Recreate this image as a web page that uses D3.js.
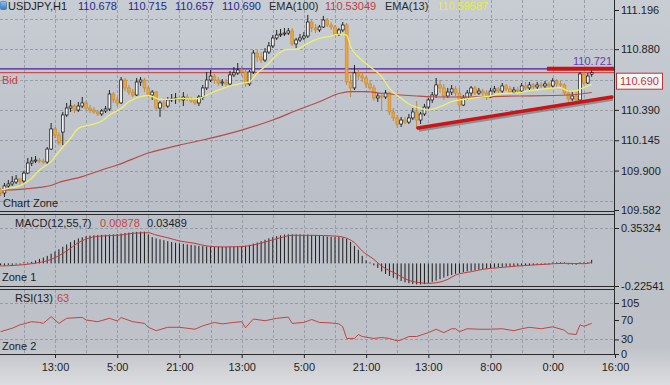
<!DOCTYPE html>
<html>
<head>
<meta charset="utf-8">
<script src="https://cdn.jsdelivr.net/npm/d3@7"></script>
<style>
body { margin: 0; background: #c4c8cf; overflow: hidden; }
svg { display: block; font-family: "Liberation Sans", Arial, sans-serif; font-size: 11px; }
</style>
</head>
<body>
<svg id="chart" width="670" height="385"></svg>
<script>
// USDJPY H1 bars
var opens = [109.743,109.719,109.776,109.792,109.808,109.832,109.816,109.880,109.961,109.977,
109.985,109.977,109.969,110.074,110.236,110.187,110.211,110.349,110.405,110.421,
110.389,110.421,110.446,110.405,110.389,110.373,110.357,110.381,110.397,110.518,
110.470,110.446,110.631,110.567,110.534,110.510,110.615,110.631,110.567,110.510,
110.534,110.405,110.446,110.421,110.470,110.478,110.486,110.470,110.494,110.478,
110.462,110.446,110.494,110.567,110.631,110.663,110.631,110.607,110.615,110.599,
110.672,110.688,110.712,110.696,110.599,110.696,110.849,110.817,110.792,110.857,
110.906,110.970,110.994,111.002,111.010,111.027,110.922,110.954,110.970,110.986,
111.099,111.051,111.035,111.059,111.115,111.075,111.059,111.002,111.035,111.075,
110.615,110.567,110.688,110.663,110.647,110.599,110.567,110.486,110.502,110.494,
110.526,110.373,110.325,110.276,110.308,110.292,110.325,110.373,110.308,110.357,
110.413,110.470,110.510,110.591,110.567,110.502,110.534,110.559,110.526,110.429,
110.486,110.526,110.567,110.526,110.542,110.526,110.494,110.542,110.559,110.542,
110.583,110.559,110.534,110.550,110.542,110.583,110.567,110.591,110.575,110.591,
110.583,110.599,110.583,110.623,110.599,110.591,110.526,110.478,110.502,110.470,
110.680,110.607,110.678];
var highs = [109.760,109.800,109.824,109.856,109.864,109.840,109.897,110.002,110.010,110.018,
110.002,109.994,110.090,110.284,110.252,110.211,110.373,110.446,110.470,110.438,
110.454,110.494,110.462,110.429,110.413,110.389,110.397,110.421,110.550,110.534,
110.494,110.655,110.647,110.591,110.559,110.647,110.655,110.647,110.583,110.550,
110.542,110.462,110.486,110.494,110.518,110.526,110.502,110.534,110.518,110.494,
110.486,110.510,110.591,110.696,110.712,110.680,110.655,110.639,110.639,110.704,
110.736,110.768,110.744,110.712,110.712,110.873,110.873,110.857,110.889,110.938,
110.994,111.035,111.043,111.051,111.051,111.051,110.970,111.002,111.018,111.156,
111.115,111.083,111.075,111.148,111.131,111.099,111.075,111.051,111.099,111.091,
110.672,110.752,110.712,110.696,110.663,110.631,110.591,110.526,110.526,110.550,
110.534,110.405,110.349,110.333,110.333,110.357,110.405,110.462,110.373,110.438,
110.486,110.534,110.647,110.631,110.599,110.567,110.591,110.583,110.567,110.510,
110.550,110.583,110.583,110.567,110.559,110.550,110.567,110.583,110.575,110.607,
110.599,110.583,110.575,110.575,110.607,110.615,110.615,110.607,110.615,110.615,
110.623,110.615,110.647,110.639,110.623,110.607,110.550,110.534,110.534,110.696,
110.696,110.688,110.715];
var lows = [109.695,109.687,109.760,109.776,109.792,109.784,109.792,109.872,109.937,109.961,
109.961,109.953,109.953,110.066,110.163,110.106,110.106,110.333,110.373,110.365,
110.373,110.405,110.389,110.365,110.357,110.341,110.341,110.365,110.381,110.446,
110.421,110.438,110.542,110.510,110.494,110.502,110.583,110.534,110.494,110.470,
110.389,110.333,110.389,110.405,110.454,110.438,110.454,110.421,110.462,110.446,
110.429,110.421,110.470,110.550,110.615,110.599,110.583,110.583,110.575,110.583,
110.655,110.672,110.663,110.575,110.583,110.680,110.776,110.768,110.776,110.841,
110.889,110.954,110.978,110.986,110.994,110.906,110.889,110.938,110.954,110.970,
111.018,111.010,111.018,111.051,111.059,111.035,110.986,110.986,111.018,110.591,
110.494,110.550,110.631,110.615,110.567,110.550,110.462,110.454,110.389,110.478,
110.349,110.300,110.244,110.252,110.276,110.276,110.308,110.244,110.276,110.341,
110.389,110.446,110.486,110.526,110.470,110.486,110.510,110.502,110.389,110.421,
110.470,110.502,110.510,110.510,110.502,110.470,110.486,110.526,110.526,110.526,
110.542,110.518,110.518,110.526,110.526,110.550,110.550,110.550,110.559,110.567,
110.567,110.559,110.567,110.575,110.567,110.510,110.454,110.462,110.446,110.462,
110.591,110.599,110.657];
var closes = [109.719,109.776,109.792,109.808,109.832,109.816,109.880,109.961,109.977,109.985,
109.977,109.969,110.074,110.236,110.187,110.123,110.349,110.405,110.421,110.389,
110.421,110.446,110.405,110.389,110.373,110.357,110.381,110.397,110.518,110.470,
110.446,110.631,110.567,110.534,110.510,110.615,110.631,110.567,110.510,110.534,
110.405,110.446,110.421,110.470,110.478,110.486,110.470,110.494,110.478,110.462,
110.446,110.494,110.567,110.631,110.663,110.631,110.607,110.615,110.599,110.672,
110.688,110.712,110.696,110.599,110.696,110.849,110.817,110.792,110.857,110.906,
110.970,110.994,111.002,111.010,111.027,110.922,110.954,110.970,110.986,111.099,
111.051,111.035,111.059,111.115,111.075,111.059,111.002,111.035,111.075,110.615,
110.567,110.688,110.663,110.647,110.599,110.567,110.486,110.502,110.494,110.526,
110.373,110.325,110.276,110.308,110.292,110.325,110.373,110.308,110.357,110.413,
110.470,110.510,110.591,110.567,110.502,110.534,110.559,110.526,110.429,110.486,
110.526,110.567,110.526,110.542,110.526,110.494,110.542,110.559,110.542,110.583,
110.559,110.534,110.550,110.542,110.583,110.567,110.591,110.575,110.591,110.583,
110.599,110.583,110.623,110.599,110.591,110.526,110.478,110.502,110.470,110.680,
110.607,110.663,110.690];

// moving averages, read at sample bars
var ema13Bars = [0,2,5,8,10,13,15,18,20,23,26,28,31,33,36,38,41,44,46,49,51,54,56,59,62,64,66,69,71,74,76,79,82,85,87,89,90,92,95,98,100,103,105,108,110,113,116,118,121,123,126,128,131,134,136,139,141,144,145,146,148,150,152];
var ema13Vals = [109.743,109.757,109.778,109.838,109.905,109.972,110.052,110.161,110.241,110.268,110.300,110.349,110.403,110.456,110.496,110.506,110.475,110.475,110.483,110.478,110.483,110.524,110.550,110.583,110.604,110.617,110.685,110.766,110.833,110.879,110.879,110.927,110.967,110.986,111.002,110.994,110.900,110.819,110.738,110.658,110.564,110.483,110.437,110.403,110.389,110.416,110.456,110.470,110.483,110.491,110.502,110.518,110.524,110.532,110.545,110.556,110.564,110.569,110.556,110.542,110.545,110.572,110.596];
var ema100Bars = [0,5,10,13,15,21,26,30,38,46,52,62,70,77,82,87,90,94,98,103,107,111,116,133,146,152];
var ema100Vals = [109.743,109.749,109.764,109.780,109.804,109.851,109.905,109.945,110.042,110.106,110.147,110.227,110.308,110.397,110.456,110.522,110.537,110.537,110.524,110.510,110.502,110.496,110.494,110.502,110.510,110.530];

// MACD(12,55,7)
var macdMain = [-0.02,-0.02,-0.015,-0.015,-0.012,-0.01,-0.005,0.009,0.016,0.029,
0.045,0.059,0.075,0.097,0.119,0.141,0.166,0.189,0.212,0.232,
0.249,0.261,0.272,0.277,0.281,0.283,0.285,0.286,0.288,0.290,
0.293,0.298,0.303,0.307,0.311,0.314,0.316,0.316,0.29,0.262,
0.25,0.24,0.231,0.222,0.213,0.206,0.2,0.195,0.19,0.185,
0.18,0.175,0.172,0.17,0.168,0.167,0.166,0.166,0.166,0.167,
0.168,0.17,0.173,0.176,0.185,0.197,0.208,0.222,0.236,0.25,
0.262,0.272,0.28,0.287,0.29,0.29,0.29,0.289,0.288,0.287,
0.284,0.28,0.275,0.272,0.268,0.265,0.262,0.262,0.258,0.245,
0.215,0.175,0.135,0.075,0.03,0.005,-0.02,-0.045,-0.08,-0.105,
-0.125,-0.143,-0.16,-0.176,-0.189,-0.198,-0.205,-0.209,-0.21,-0.207,
-0.196,-0.184,-0.172,-0.157,-0.142,-0.127,-0.115,-0.104,-0.095,-0.087,
-0.08,-0.074,-0.068,-0.062,-0.057,-0.052,-0.046,-0.042,-0.038,-0.034,
-0.031,-0.029,-0.027,-0.025,-0.023,-0.021,-0.019,-0.018,-0.016,-0.014,
-0.012,-0.01,-0.006,-0.003,-0.004,-0.007,-0.01,-0.012,-0.014,-0.008,
0.002,0.01,0.03489];
var signalBars = [0,8,13,17,20,23,26,31,34,38,40,43,46,50,53,57,62,65,69,72,75,80,86,88,91,93,96,98,102,105,108,110,112,115,117,121,124,128,133,140,145,150,152];
var signalVals = [-0.026,-0.003,0.04,0.124,0.207,0.256,0.273,0.283,0.30,0.306,0.283,0.256,0.224,0.20,0.174,0.164,0.167,0.184,0.224,0.256,0.28,0.28,0.273,0.263,0.207,0.124,0.04,-0.026,-0.109,-0.169,-0.193,-0.199,-0.193,-0.159,-0.116,-0.083,-0.059,-0.043,-0.026,-0.009,0.001,-0.003,0.00878];

// RSI(13)
var rsiBars = [0,3,5,8,10,11,13,15,17,21,22,25,28,30,31,34,37,38,40,43,46,50,52,55,57,60,62,63,65,68,71,74,75,78,80,82,85,87,88,89,91,92,93,96,98,100,102,103,105,107,110,112,114,116,117,118,120,123,126,129,132,134,136,139,142,145,146,148,149,150,152];
var rsiVals = [46,53,60,66.5,65,63,77,63,73.5,75.5,70,66.5,73.5,68,75,66.5,63,55,48,55,55,51,58,65,62,65,66.5,54,72,68.5,73.5,76,63,65,71,65,64,62,56,32,32,40,36,32,34,32,27,29,36,36,44,51,44,52,52,46,52,51,51,52,48,52,55,52,56,49,42,40,60,57,63];

var timeBars = [14,30,46,62,78,94,110,126,142,158];
var timeLabels = ["13:00","5:00","21:00","13:00","5:00","21:00","13:00","8:00","0:00","16:00"];
var priceTicks = [111.196,110.880,110.390,110.145,109.900,109.582];
var priceGrid = [111.125,110.880,110.635,110.390,110.145,109.900,109.655];
var macdTicks = [0.35324,-0.22541];
var rsiTicks = [105,70,30,0];
var rsiGrid = [105,30];

var bid = 110.690, level = 110.721;
var trend = [[107.3,110.244],[157.2,110.494]];
var levelSeg = [140.5,158];

var svg = d3.select("#chart");
var defs = svg.append("defs");

var bg = defs.append("linearGradient").attr("id","bg").attr("x1",0).attr("y1",0).attr("x2",0).attr("y2",1);
bg.append("stop").attr("offset","0%").attr("stop-color","#c8ccd3");
bg.append("stop").attr("offset","50%").attr("stop-color","#bbc0c8");
bg.append("stop").attr("offset","90%").attr("stop-color","#bfc2c8");
bg.append("stop").attr("offset","100%").attr("stop-color","#dcdde0");
svg.append("rect").attr("width",670).attr("height",385).attr("fill","url(#bg)");

defs.append("clipPath").attr("id","clipMain").append("rect").attr("x",0).attr("y",0).attr("width",614).attr("height",211);
defs.append("clipPath").attr("id","clipMacd").append("rect").attr("x",0).attr("y",215).attr("width",614).attr("height",71);
defs.append("clipPath").attr("id","clipRsi").append("rect").attr("x",0).attr("y",290).attr("width",614).attr("height",64);

var x = d3.scaleLinear().domain([14,158]).range([55,615]);
var yP = d3.scaleLinear().domain([109.582,111.196]).range([210,10]);
var yM = d3.scaleLinear().domain([-0.22541,0.35324]).range([286,228]);
var yR = d3.scaleLinear().domain([0,105]).range([354,303]);

var gridColor = "#8d949e";
var gridBars = d3.range(6,158,8);
var panels = [[0,211],[215,286],[290,354]];

// grid
var grid = svg.append("g").attr("stroke",gridColor).attr("stroke-dasharray","3,2").attr("stroke-width",0.8);
panels.forEach(function(p) {
    grid.selectAll(null).data(gridBars).enter().append("line")
        .attr("x1",function(d){ return Math.round(x(d))+0.5; })
        .attr("x2",function(d){ return Math.round(x(d))+0.5; })
        .attr("y1",p[0]).attr("y2",p[1]);
});
grid.selectAll(null).data(priceGrid).enter().append("line")
    .attr("x1",0).attr("x2",614)
    .attr("y1",function(d){ return Math.round(yP(d))+0.5; })
    .attr("y2",function(d){ return Math.round(yP(d))+0.5; });
grid.append("line").attr("x1",0).attr("x2",614)
    .attr("y1",Math.round(yM(macdTicks[0]))+0.5).attr("y2",Math.round(yM(macdTicks[0]))+0.5);
grid.selectAll(null).data(rsiGrid).enter().append("line")
    .attr("x1",0).attr("x2",614)
    .attr("y1",function(d){ return Math.round(yR(d))+0.5; })
    .attr("y2",function(d){ return Math.round(yR(d))+0.5; });

// main panel
var main = svg.append("g").attr("clip-path","url(#clipMain)");

main.append("line").attr("x1",0).attr("x2",614).attr("y1",yP(level)).attr("y2",yP(level))
    .attr("stroke","#4a1fa0").attr("stroke-width",1.2);
main.append("line").attr("x1",0).attr("x2",614).attr("y1",yP(bid)).attr("y2",yP(bid))
    .attr("stroke","#c43434").attr("stroke-width",1);

var bars = closes.map(function(c,i) {
    return { i: i, o: opens[i], h: highs[i], l: lows[i], c: c };
});

var candle = main.selectAll("g.candle").data(bars).enter().append("g").attr("class","candle");
candle.append("line")
    .attr("x1",function(d){ return x(d.i); })
    .attr("x2",function(d){ return x(d.i); })
    .attr("y1",function(d){ return yP(d.h); })
    .attr("y2",function(d){ return yP(d.l); })
    .attr("stroke",function(d){ return d.c >= d.o ? "#111" : "#b98332"; })
    .attr("stroke-width",0.9);
candle.append("rect")
    .attr("x",function(d){ return x(d.i)-1.4; })
    .attr("width",2.8)
    .attr("y",function(d){ return yP(Math.max(d.o,d.c)); })
    .attr("height",function(d){ return Math.max(0.8, Math.abs(yP(d.o)-yP(d.c))); })
    .attr("fill",function(d){ return d.c >= d.o ? "#f2f2f2" : "#eba53c"; })
    .attr("stroke",function(d){ return d.c >= d.o ? "#111" : "#c98c34"; })
    .attr("stroke-width",0.7);

var maLine = d3.line()
    .x(function(d){ return x(d[0]); })
    .y(function(d){ return yP(d[1]); })
    .curve(d3.curveMonotoneX);

main.append("path").datum(d3.zip(ema100Bars,ema100Vals)).attr("d",maLine)
    .attr("fill","none").attr("stroke","#b84a4c").attr("stroke-width",1.2);
main.append("path").datum(d3.zip(ema13Bars,ema13Vals)).attr("d",maLine)
    .attr("fill","none").attr("stroke","#eef06a").attr("stroke-width",1.3);

// trend line with shadow, and the resistance segment
main.append("line")
    .attr("x1",x(trend[0][0])+1).attr("y1",yP(trend[0][1])+2)
    .attr("x2",x(trend[1][0])+1).attr("y2",yP(trend[1][1])+2)
    .attr("stroke","#4a4d55").attr("stroke-opacity",0.45).attr("stroke-width",3.5);
main.append("line")
    .attr("x1",x(trend[0][0])).attr("y1",yP(trend[0][1]))
    .attr("x2",x(trend[1][0])).attr("y2",yP(trend[1][1]))
    .attr("stroke","#cc1414").attr("stroke-width",3.4).attr("stroke-linecap","round");
main.append("line")
    .attr("x1",x(levelSeg[0])).attr("x2",x(levelSeg[1]))
    .attr("y1",yP(level)).attr("y2",yP(level))
    .attr("stroke","#cc1111").attr("stroke-width",4);

// MACD panel
var macd = svg.append("g").attr("clip-path","url(#clipMacd)");
macd.selectAll("line.hist").data(macdMain).enter().append("line").attr("class","hist")
    .attr("x1",function(d,i){ return x(i); })
    .attr("x2",function(d,i){ return x(i); })
    .attr("y1",yM(0))
    .attr("y2",function(d){ return Math.abs(yM(d)-yM(0)) < 1 ? yM(0)-1 : yM(d); })
    .attr("stroke","#1c1c1c").attr("stroke-width",1);
macd.append("path").datum(d3.zip(signalBars,signalVals))
    .attr("d",d3.line().x(function(d){ return x(d[0]); }).y(function(d){ return yM(d[1]); }).curve(d3.curveMonotoneX))
    .attr("fill","none").attr("stroke","#c23a3a").attr("stroke-width",1);

// RSI panel
var rsi = svg.append("g").attr("clip-path","url(#clipRsi)");
rsi.append("path").datum(d3.zip(rsiBars,rsiVals))
    .attr("d",d3.line().x(function(d){ return x(d[0]); }).y(function(d){ return yR(d[1]); }))
    .attr("fill","none").attr("stroke","#c24444").attr("stroke-width",1);

// panel borders
var borders = svg.append("g").attr("stroke","#2a2a2a").attr("stroke-width",1);
[211.5,214.5,286.5,289.5,354.5].forEach(function(y) {
    borders.append("line").attr("x1",0).attr("x2",615).attr("y1",y).attr("y2",y);
});
borders.append("line").attr("x1",614.5).attr("x2",614.5).attr("y1",0).attr("y2",355);

// axes
function styleAxis(g) {
    g.select(".domain").remove();
    g.selectAll(".tick line").attr("stroke","#222");
    g.selectAll(".tick text").attr("fill","#1e1e1e").attr("font-size",11)
        .attr("font-family","'Liberation Sans', Arial, sans-serif");
}
svg.append("g").attr("transform","translate(615,0)")
    .call(d3.axisRight(yP).tickValues(priceTicks).tickSize(4).tickPadding(2).tickFormat(d3.format(".3f")))
    .call(styleAxis);
svg.append("g").attr("transform","translate(615,0)")
    .call(d3.axisRight(yM).tickValues(macdTicks).tickSize(4).tickPadding(2).tickFormat(function(d){ return d.toFixed(5); }))
    .call(styleAxis);
svg.append("g").attr("transform","translate(615,0)")
    .call(d3.axisRight(yR).tickValues(rsiTicks).tickSize(4).tickPadding(2))
    .call(styleAxis);
svg.append("g").attr("transform","translate(0,355)")
    .call(d3.axisBottom(x).tickValues(timeBars).tickSize(3).tickPadding(5)
        .tickFormat(function(d,i){ return timeLabels[i]; }))
    .call(styleAxis);

// current price box
svg.append("rect").attr("x",616.5).attr("y",yP(bid)+0.5).attr("width",46).attr("height",16)
    .attr("fill","#f6f6f6").attr("stroke","#c43434");
svg.append("text").attr("x",620).attr("y",yP(bid)+12.5).attr("fill","#c43434").text(bid.toFixed(3));
svg.append("text").attr("x",612).attr("y",yP(level)-4).attr("text-anchor","end")
    .attr("fill","#6a3cb4").text(level.toFixed(3));

// header
var icon = defs.append("linearGradient").attr("id","icon").attr("x1",0).attr("y1",0).attr("x2",0).attr("y2",1);
icon.append("stop").attr("offset","0%").attr("stop-color","#8fc4f0");
icon.append("stop").attr("offset","100%").attr("stop-color","#2f78c8");
svg.append("rect").attr("x",0.5).attr("y",1.5).attr("width",6).attr("height",8).attr("rx",1)
    .attr("fill","url(#icon)").attr("stroke","#3a6da8").attr("stroke-width",0.6);

var header = [
    { t: "USDJPY,H1", x: 8, c: "#1e1e1e" },
    { t: opens[152].toFixed(3), x: 78, c: "#1d2b8e" },
    { t: highs[152].toFixed(3), x: 128, c: "#1d2b8e" },
    { t: lows[152].toFixed(3), x: 175, c: "#1d2b8e" },
    { t: closes[152].toFixed(3), x: 222, c: "#1d2b8e" },
    { t: "EMA(100)", x: 269, c: "#2a2a2a" },
    { t: "110.53049", x: 325, c: "#c23c3c" },
    { t: "EMA(13)", x: 385, c: "#2a2a2a" },
    { t: "110.59587", x: 437, c: "#e8ea3c" }
];
svg.selectAll("text.hdr").data(header).enter().append("text").attr("class","hdr")
    .attr("x",function(d){ return d.x; }).attr("y",10)
    .attr("fill",function(d){ return d.c; })
    .text(function(d){ return d.t; });

var labels = [
    { t: "Bid", x: 2, y: 84, c: "#c84040" },
    { t: "Chart Zone", x: 3, y: 207, c: "#1e1e1e" },
    { t: "MACD(12,55,7)", x: 15, y: 227, c: "#1e1e1e" },
    { t: "0.00878", x: 100, y: 227, c: "#c24444" },
    { t: "0.03489", x: 147, y: 227, c: "#1e1e1e" },
    { t: "Zone 1", x: 2, y: 281, c: "#1e1e1e" },
    { t: "RSI(13)", x: 15, y: 302, c: "#1e1e1e" },
    { t: "63", x: 57, y: 302, c: "#c24444" },
    { t: "Zone 2", x: 2, y: 350, c: "#1e1e1e" }
];
svg.selectAll("text.lbl").data(labels).enter().append("text").attr("class","lbl")
    .attr("x",function(d){ return d.x; }).attr("y",function(d){ return d.y; })
    .attr("fill",function(d){ return d.c; })
    .text(function(d){ return d.t; });
</script>
</body>
</html>
